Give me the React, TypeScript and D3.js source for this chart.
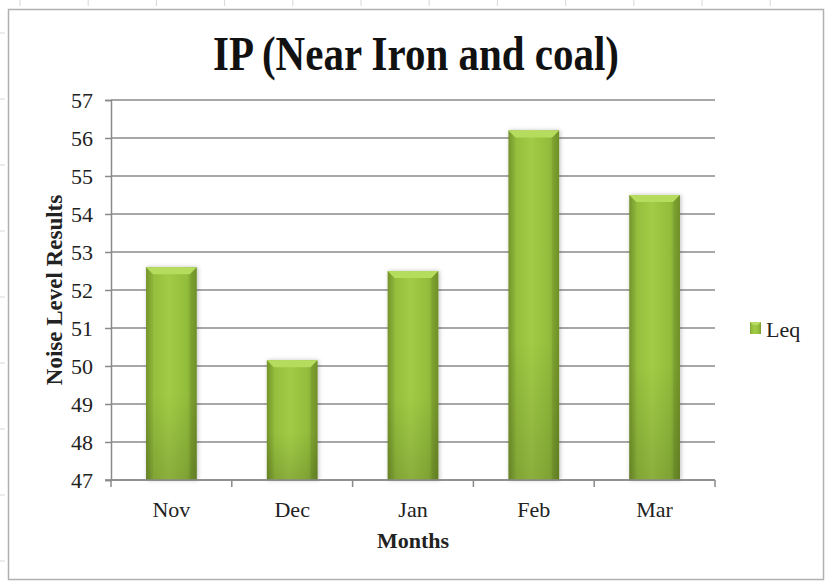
import React, { useEffect, useRef } from 'react';
import * as d3 from 'd3';

const months = ['Nov', 'Dec', 'Jan', 'Feb', 'Mar'];
const leq = [52.6, 50.15, 52.5, 56.2, 54.5];
const yTicks = [47, 48, 49, 50, 51, 52, 53, 54, 55, 56, 57];
const seriesName = 'Leq';
const chartTitle = 'IP (Near Iron and coal)';
const xTitle = 'Months';
const yTitle = 'Noise Level Results';

export default function App() {
  const chartRef = useRef<SVGSVGElement>(null);

  useEffect(() => {
    const svg = d3.select(chartRef.current);
    svg.selectAll('*').remove();

    const W = 830;
    const H = 583;
    const margin = { top: 100, right: 115, bottom: 103, left: 111 };
    const font = "'Liberation Serif', 'Times New Roman', serif";
    const gridColor = '#8a8a8a';
    const textColor = '#222';

    const x = d3.scaleBand<string>()
      .domain(months)
      .range([margin.left, W - margin.right])
      .paddingInner(0.58)
      .paddingOuter(0.29);

    const y = d3.scaleLinear()
      .domain([47, 57])
      .range([H - margin.bottom, margin.top]);

    // gradients for the bars
    const defs = svg.append('defs');
    const hg = defs.append('linearGradient').attr('id', 'barH').attr('x1', 0).attr('x2', 1).attr('y1', 0).attr('y2', 0);
    [['0%', '#7b9c2d'], ['12%', '#93bd3c'], ['45%', '#a2cb46'], ['80%', '#93bd3c'], ['100%', '#789a2b']]
      .forEach(([o, c]) => hg.append('stop').attr('offset', o).attr('stop-color', c));
    const vg = defs.append('linearGradient').attr('id', 'barV').attr('x1', 0).attr('x2', 0).attr('y1', 0).attr('y2', 1);
    [['0%', '#ffffff', 0.0], ['60%', '#000000', 0.0], ['100%', '#000000', 0.14]]
      .forEach(([o, c, a]) => vg.append('stop').attr('offset', o as string).attr('stop-color', c as string).attr('stop-opacity', a as number));
    const sh = defs.append('filter').attr('id', 'shadow').attr('x', '-20%').attr('y', '-5%').attr('width', '140%').attr('height', '110%');
    sh.append('feDropShadow').attr('dx', 1).attr('dy', 0).attr('stdDeviation', 2).attr('flood-color', '#000').attr('flood-opacity', 0.25);

    // outer frame and faint ruler ticks
    svg.append('rect').attr('x', 8.5).attr('y', 9.5).attr('width', 815).attr('height', 570)
      .attr('fill', '#fff').attr('stroke', '#b0b0b0').attr('stroke-width', 1.5);
    d3.range(20, 830, 68.2).forEach(t => {
      svg.append('line').attr('x1', t).attr('x2', t).attr('y1', 0).attr('y2', 6).attr('stroke', '#d8d8d8');
    });
    d3.range(33, 583, 66).forEach(t => {
      svg.append('line').attr('x1', 0).attr('x2', 5).attr('y1', t).attr('y2', t).attr('stroke', '#d8d8d8');
    });

    // gridlines
    svg.append('g').selectAll('line').data(yTicks).join('line')
      .attr('x1', margin.left).attr('x2', W - margin.right)
      .attr('y1', d => y(d)).attr('y2', d => y(d))
      .attr('stroke', gridColor).attr('stroke-width', 1.5);

    // y axis
    const yAxis = svg.append('g')
      .attr('transform', `translate(${margin.left},0)`)
      .call(d3.axisLeft(y).tickValues(yTicks).tickSize(6).tickPadding(12).tickFormat(d3.format('d')))
      .attr('font-family', font)
      .attr('font-size', 22);
    yAxis.select('.domain').attr('stroke', gridColor).attr('stroke-width', 1.5);
    yAxis.selectAll('.tick line').attr('stroke', gridColor).attr('stroke-width', 1.5);
    yAxis.selectAll('.tick text').attr('font-family', font).attr('font-size', 22).attr('fill', textColor);

    // bars
    const bars = svg.append('g');
    months.forEach((m, i) => {
      const bx = x(m)!;
      const bw = x.bandwidth();
      const top = y(leq[i]);
      const base = y(47);
      const g = bars.append('g');
      g.append('rect').attr('x', bx).attr('y', top).attr('width', bw).attr('height', base - top)
        .attr('fill', 'url(#barH)').attr('filter', 'url(#shadow)');
      g.append('rect').attr('x', bx).attr('y', top).attr('width', bw).attr('height', base - top)
        .attr('fill', 'url(#barV)');
      // top bevel
      const bev = 7;
      g.append('path')
        .attr('d', `M${bx},${top}L${bx + bw},${top}L${bx + bw - bev},${top + bev}L${bx + bev},${top + bev}Z`)
        .attr('fill', '#b6dc5e');
      g.append('path')
        .attr('d', `M${bx},${top}L${bx + bev},${top + bev}L${bx + bev},${base}L${bx},${base}Z`)
        .attr('fill', '#000').attr('fill-opacity', 0.05);
      g.append('path')
        .attr('d', `M${bx + bw},${top}L${bx + bw - bev},${top + bev}L${bx + bw - bev},${base}L${bx + bw},${base}Z`)
        .attr('fill', '#000').attr('fill-opacity', 0.07);
    });

    // x axis
    const base = y(47);
    const step = x.step();
    const xAxis = svg.append('g');
    xAxis.append('line').attr('x1', margin.left - 6).attr('x2', W - margin.right)
      .attr('y1', base).attr('y2', base).attr('stroke', gridColor).attr('stroke-width', 1.5);
    d3.range(0, months.length + 1).forEach(k => {
      const tx = margin.left + k * step;
      xAxis.append('line').attr('x1', tx).attr('x2', tx).attr('y1', base).attr('y2', base + 7)
        .attr('stroke', gridColor).attr('stroke-width', 1.5);
    });
    xAxis.selectAll('text').data(months).join('text')
      .attr('x', d => x(d)! + x.bandwidth() / 2).attr('y', base + 37)
      .attr('text-anchor', 'middle').attr('font-family', font).attr('font-size', 22).attr('fill', textColor)
      .text(d => d);

    // titles
    svg.append('text').attr('transform', 'translate(416,70) scale(1,1.2)').attr('text-anchor', 'middle')
      .attr('font-family', font).attr('font-weight', 'bold').attr('font-size', 41).attr('fill', '#111')
      .text(chartTitle);
    svg.append('text').attr('x', (margin.left + W - margin.right) / 2).attr('y', 548).attr('text-anchor', 'middle')
      .attr('font-family', font).attr('font-weight', 'bold').attr('font-size', 22).attr('fill', textColor)
      .text(xTitle);
    svg.append('text').attr('transform', `translate(62,${(margin.top + base) / 2}) rotate(-90)`)
      .attr('text-anchor', 'middle')
      .attr('font-family', font).attr('font-weight', 'bold').attr('font-size', 23).attr('fill', textColor)
      .text(yTitle);

    // legend
    const lg = svg.append('g').attr('transform', 'translate(750,322)');
    lg.append('rect').attr('width', 11).attr('height', 12).attr('fill', 'url(#barH)');
    lg.append('path').attr('d', 'M0,0L11,0L8,3L3,3Z').attr('fill', '#b6dc5e');
    lg.append('text').attr('x', 16).attr('y', 15).attr('font-family', font).attr('font-size', 22).attr('fill', textColor)
      .text(seriesName);
  }, []);

  return (
    <svg ref={chartRef} width={830} height={583} style={{ position: 'absolute', left: 0, top: 0 }} />
  );
}
